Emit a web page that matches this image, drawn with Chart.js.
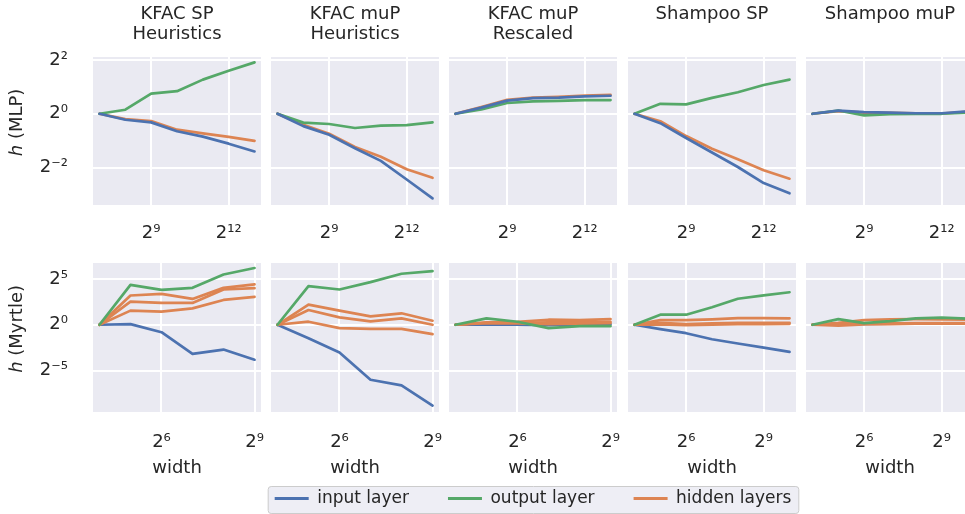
<!DOCTYPE html>
<html><head><meta charset="utf-8">
<script src="https://cdn.jsdelivr.net/npm/chart.js@4.4.1/dist/chart.umd.min.js"></script>
<style>
html,body{margin:0;padding:0;width:965px;height:514px;overflow:hidden;background:#fff;}
canvas{position:absolute;}
</style></head><body>
<script>
// ---------- data ----------
const widthsMLP = [128, 256, 512, 1024, 2048, 4096, 8192];
const widthsMyrtle = [16, 32, 64, 128, 256, 512];
const widthsMyrtleShampoo = [16, 32, 64, 128, 256, 512, 1024];

const panelTitles = [['KFAC SP', 'Heuristics'], ['KFAC muP', 'Heuristics'], ['KFAC muP', 'Rescaled'], 'Shampoo SP', 'Shampoo muP'];
const rowLabels = ['\u210E (MLP)', '\u210E (Myrtle)'];
const xAxisLabel = 'width';
const seriesNames = ['input layer', 'output layer', 'hidden layers'];

const mlpXTicks = [512, 4096];
const myrtleXTicks = [64, 512];
const mlpYTicks = [0.25, 1, 4];
const myrtleYTicks = [1 / 32, 1, 32];

// MLP row
const kfacSpMlpInput = [1, 0.858, 0.801, 0.637, 0.555, 0.463, 0.379];
const kfacSpMlpOutput = [1, 1.11, 1.68, 1.79, 2.41, 3.03, 3.76];
const kfacSpMlpHidden = [1, 0.871, 0.829, 0.664, 0.603, 0.551, 0.497];

const kfacMupHeurMlpInput = [1, 0.727, 0.582, 0.412, 0.297, 0.184, 0.113];
const kfacMupHeurMlpOutput = [1, 0.796, 0.768, 0.693, 0.737, 0.747, 0.801];
const kfacMupHeurMlpHidden = [1, 0.753, 0.599, 0.426, 0.330, 0.240, 0.192];

const kfacMupRescMlpInput = [1, 1.173, 1.404, 1.495, 1.516, 1.569, 1.591];
const kfacMupRescMlpOutput = [1, 1.117, 1.320, 1.376, 1.395, 1.424, 1.424];
const kfacMupRescMlpHidden = [1, 1.189, 1.434, 1.516, 1.548, 1.602, 1.625];

const shampooSpMlpInput = [1, 0.785, 0.536, 0.369, 0.254, 0.168, 0.129];
const shampooSpMlpOutput = [1, 1.292, 1.274, 1.505, 1.741, 2.099, 2.412];
const shampooSpMlpHidden = [1, 0.824, 0.563, 0.406, 0.310, 0.233, 0.188];

const shampooMupMlpInput = [1, 1.087, 1.042, 1.028, 1.014, 1.014, 1.064];
const shampooMupMlpOutput = [1, 1.087, 0.959, 0.993, 1.0, 1.0, 1.028];
const shampooMupMlpHidden = [1, 1.072, 1.028, 1.021, 1.014, 1.007, 1.050];

// Myrtle row
const kfacSpMyrtleInput = [1, 1.05, 0.570, 0.110, 0.153, 0.071];
const kfacSpMyrtleOutput = [1, 20.5, 14.0, 16.3, 44.9, 73.0];
const kfacSpMyrtleHiddenA = [1, 9.13, 10.3, 7.06, 16.3, 21.1];
const kfacSpMyrtleHiddenB = [1, 5.78, 5.21, 5.21, 14.4, 15.9];
const kfacSpMyrtleHiddenC = [1, 2.91, 2.69, 3.46, 6.54, 8.22];

const kfacMupHeurMyrtleInput = [1, 0.361, 0.122, 0.0156, 0.0102, 0.00221];
const kfacMupHeurMyrtleOutput = [1, 18.5, 14.4, 25.1, 47.5, 58.1];
const kfacMupHeurMyrtleHiddenA = [1, 4.59, 2.91, 1.89, 2.38, 1.36];
const kfacMupHeurMyrtleHiddenB = [1, 3.05, 1.75, 1.29, 1.62, 1.0];
const kfacMupHeurMyrtleHiddenC = [1, 1.26, 0.774, 0.737, 0.737, 0.490];

const kfacMupRescMyrtleInput = [1, 1.035, 1.0, 0.966, 1.0, 1.035];
const kfacMupRescMyrtleOutput = [1, 1.625, 1.257, 0.774, 0.901, 0.901];
const kfacMupRescMyrtleHiddenA = [1, 1.197, 1.257, 1.464, 1.424, 1.537];
const kfacMupRescMyrtleHiddenB = [1, 1.165, 1.165, 1.197, 1.197, 1.257];
const kfacMupRescMyrtleHiddenC = [1, 1.133, 1.110, 1.050, 1.079, 1.133];

const shampooSpMyrtleInput = [1, 0.717, 0.528, 0.335, 0.242, 0.178, 0.128];
const shampooSpMyrtleOutput = [1, 2.14, 2.14, 3.78, 7.16, 9.19, 11.7];
const shampooSpMyrtleHiddenA = [1, 1.424, 1.424, 1.505, 1.659, 1.659, 1.625];
const shampooSpMyrtleHiddenB = [1, 1.165, 1.050, 1.110, 1.165, 1.165, 1.165];
const shampooSpMyrtleHiddenC = [1, 1.035, 0.973, 1.0, 1.050, 1.050, 1.072];

const shampooMupMyrtleInput = [1, 1.035, 1.072, 1.079, 1.110, 1.110, 1.110];
const shampooMupMyrtleOutput = [1, 1.537, 1.133, 1.320, 1.625, 1.705, 1.580];
const shampooMupMyrtleHiddenA = [1, 1.165, 1.424, 1.505, 1.537, 1.505, 1.464];
const shampooMupMyrtleHiddenB = [1, 0.927, 1.028, 1.050, 1.079, 1.079, 1.079];
const shampooMupMyrtleHiddenC = [1, 1.050, 1.110, 1.110, 1.133, 1.133, 1.133];

// ---------- styling / layout ----------
const COLORS = {input: '#4C72B0', output: '#55A868', hidden: '#DD8452'};
const TEXT = '#262626';
Chart.defaults.font.family = '"DejaVu Sans", sans-serif';
Chart.defaults.color = TEXT;

const colLeft = [93, 271, 449, 628, 806];
const plotW = 168;
const rowTop = [57, 263];
const plotH = [148, 149];

const SUP = {'0':'\u2070','1':'\u00B9','2':'\u00B2','3':'\u00B3','4':'\u2074','5':'\u2075','6':'\u2076','7':'\u2077','8':'\u2078','9':'\u2079','-':'\u207B'};
function pow2Label(v) {
  const e = Math.round(Math.log2(v));
  return '2' + String(e).split('').map(c => SUP[c]).join('');
}

const panels = [
  {row: 0, col: 0, x: widthsMLP, input: kfacSpMlpInput, output: kfacSpMlpOutput, hidden: [kfacSpMlpHidden]},
  {row: 0, col: 1, x: widthsMLP, input: kfacMupHeurMlpInput, output: kfacMupHeurMlpOutput, hidden: [kfacMupHeurMlpHidden]},
  {row: 0, col: 2, x: widthsMLP, input: kfacMupRescMlpInput, output: kfacMupRescMlpOutput, hidden: [kfacMupRescMlpHidden]},
  {row: 0, col: 3, x: widthsMLP, input: shampooSpMlpInput, output: shampooSpMlpOutput, hidden: [shampooSpMlpHidden]},
  {row: 0, col: 4, x: widthsMLP, input: shampooMupMlpInput, output: shampooMupMlpOutput, hidden: [shampooMupMlpHidden]},
  {row: 1, col: 0, x: widthsMyrtle, input: kfacSpMyrtleInput, output: kfacSpMyrtleOutput, hidden: [kfacSpMyrtleHiddenA, kfacSpMyrtleHiddenB, kfacSpMyrtleHiddenC]},
  {row: 1, col: 1, x: widthsMyrtle, input: kfacMupHeurMyrtleInput, output: kfacMupHeurMyrtleOutput, hidden: [kfacMupHeurMyrtleHiddenA, kfacMupHeurMyrtleHiddenB, kfacMupHeurMyrtleHiddenC]},
  {row: 1, col: 2, x: widthsMyrtle, input: kfacMupRescMyrtleInput, output: kfacMupRescMyrtleOutput, hidden: [kfacMupRescMyrtleHiddenA, kfacMupRescMyrtleHiddenB, kfacMupRescMyrtleHiddenC]},
  {row: 1, col: 3, x: widthsMyrtleShampoo, input: shampooSpMyrtleInput, output: shampooSpMyrtleOutput, hidden: [shampooSpMyrtleHiddenA, shampooSpMyrtleHiddenB, shampooSpMyrtleHiddenC]},
  {row: 1, col: 4, x: widthsMyrtleShampoo, input: shampooMupMyrtleInput, output: shampooMupMyrtleOutput, hidden: [shampooMupMyrtleHiddenA, shampooMupMyrtleHiddenB, shampooMupMyrtleHiddenC]}
];

const plotBg = {
  id: 'plotBg',
  beforeDraw(chart) {
    const a = chart.chartArea;
    if (!a) return;
    const ctx = chart.ctx;
    ctx.save();
    ctx.fillStyle = '#EAEAF2';
    ctx.fillRect(a.left, a.top, a.right - a.left, a.bottom - a.top);
    ctx.restore();
  }
};

function pts(xs, ys) { return xs.map((x, i) => ({x: x, y: ys[i]})); }

function lineDs(label, color, data, order) {
  return {label, data, borderColor: color, backgroundColor: color, borderWidth: 2.7,
    pointRadius: 0, tension: 0, fill: false, order, borderJoinStyle: 'round', borderCapStyle: 'round'};
}

function makePanel(p) {
  const yW = p.col === 0 ? 93 : 0;
  const padR = 30;
  const xH = p.row === 0 ? 40 : 75;
  const padTop = p.row === 0 ? 0 : 40;
  const canvasTop = p.row === 0 ? 0 : rowTop[1] - padTop;
  const canvasH = p.row === 0 ? rowTop[0] + plotH[0] + xH : padTop + plotH[1] + xH;
  const canvasW = yW + plotW + padR;
  const cv = document.createElement('canvas');
  cv.width = canvasW; cv.height = canvasH;
  cv.style.left = (colLeft[p.col] - yW) + 'px';
  cv.style.top = canvasTop + 'px';
  cv.style.width = canvasW + 'px'; cv.style.height = canvasH + 'px';
  document.body.appendChild(cv);

  const n = p.x.length - 1;
  const lx = Math.log2(p.x[0]), hx = Math.log2(p.x[n]);
  const mx = (hx - lx) * 0.0417;
  const xMin = Math.pow(2, lx - mx), xMax = Math.pow(2, hx + mx);
  const yMin = p.row === 0 ? Math.pow(2, -3.39) : Math.pow(2, -9.52);
  const yMax = p.row === 0 ? Math.pow(2, 2.11) : Math.pow(2, 6.74);
  const xTicks = p.row === 0 ? mlpXTicks : myrtleXTicks;
  const yTicks = p.row === 0 ? mlpYTicks : myrtleYTicks;

  const ord = p.row === 0 ? {input: 0, output: 1, hidden: 2} : {input: 3, output: 0, hidden: 1};
  const datasets = [lineDs(seriesNames[0], COLORS.input, pts(p.x, p.input), ord.input),
                    lineDs(seriesNames[1], COLORS.output, pts(p.x, p.output), ord.output)];
  p.hidden.forEach(h => datasets.push(lineDs(seriesNames[2], COLORS.hidden, pts(p.x, h), ord.hidden)));

  const titleText = panelTitles[p.col];
  const twoLine = Array.isArray(titleText);

  new Chart(cv, {
    type: 'line',
    data: {datasets},
    plugins: [plotBg],
    options: {
      responsive: false, animation: false, devicePixelRatio: 1,
      layout: {padding: {left: 0, right: padR, top: padTop, bottom: 0}, autoPadding: false},
      plugins: {
        legend: {display: false}, tooltip: {enabled: false},
        title: {
          display: p.row === 0, text: titleText, fullSize: false, color: TEXT,
          font: {size: 18, weight: 'normal', lineHeight: 1.072},
          padding: {top: 5, bottom: twoLine ? 13.4 : 32.7}
        }
      },
      scales: {
        x: {
          type: 'logarithmic', min: xMin, max: xMax, bounds: 'data',
          afterBuildTicks: s => { s.ticks = xTicks.map(v => ({value: v})); },
          afterFit: s => { s.height = xH; },
          grid: {color: '#FFFFFF', lineWidth: 2, drawTicks: false},
          border: {display: false},
          ticks: {callback: v => pow2Label(v), padding: p.row === 0 ? 18 : 20, maxRotation: 0, minRotation: 0, autoSkip: false,
                  color: TEXT, font: {size: 18}},
          title: {display: p.row === 1, text: xAxisLabel, color: TEXT, font: {size: 18}, padding: {top: 0, bottom: 7.5}}
        },
        y: {
          type: 'logarithmic', min: yMin, max: yMax, bounds: 'data',
          afterBuildTicks: s => { s.ticks = yTicks.map(v => ({value: v})); },
          afterFit: s => { s.width = yW; },
          grid: {color: '#FFFFFF', lineWidth: 2, drawTicks: false},
          border: {display: false},
          ticks: {display: p.col === 0, callback: v => pow2Label(v), padding: 25, color: TEXT, font: {size: 18}},
          title: {display: p.col === 0, text: '   ' + rowLabels[p.row], color: TEXT, font: {size: 18}, padding: {top: 7, bottom: 0}}
        }
      }
    }
  });
}

panels.forEach(makePanel);

// ---------- shared legend ----------
const legendFrame = {
  id: 'legendFrame',
  beforeDraw(chart) {
    const hb = chart.legend && chart.legend.legendHitBoxes;
    if (!hb || !hb.length) return;
    const last = hb[hb.length - 1];
    const x0 = hb[0].left - 6.5, x1 = last.left + last.width + 7.5;
    const y0 = 35.5, y1 = 62.5;
    const ctx = chart.ctx;
    ctx.save();
    ctx.beginPath();
    ctx.roundRect(x0, y0, x1 - x0, y1 - y0, 3);
    ctx.fillStyle = 'rgba(234,234,242,0.8)';
    ctx.fill();
    ctx.strokeStyle = '#CCCCCC';
    ctx.lineWidth = 1;
    ctx.stroke();
    ctx.restore();
  }
};
(function () {
  const w = 700, h = 300;
  const cv = document.createElement('canvas');
  cv.width = w; cv.height = h;
  cv.style.left = '183px'; cv.style.top = '451px';
  cv.style.width = w + 'px'; cv.style.height = h + 'px';
  document.body.appendChild(cv);
  const cols = [COLORS.input, COLORS.output, COLORS.hidden];
  new Chart(cv, {
    type: 'line',
    data: {datasets: seriesNames.map((s, i) => ({label: s, data: [], backgroundColor: cols[i], borderColor: cols[i], borderWidth: 0}))},
    plugins: [legendFrame],
    options: {
      responsive: false, animation: false, devicePixelRatio: 1,
      layout: {padding: 0, autoPadding: false},
      scales: {x: {display: false}, y: {display: false}},
      plugins: {
        tooltip: {enabled: false},
        legend: {display: true, position: 'top', align: 'center',
          labels: {boxWidth: 34, boxHeight: 3, padding: 39, color: TEXT, font: {size: 17}}}
      }
    }
  });
})();
</script></body></html>
